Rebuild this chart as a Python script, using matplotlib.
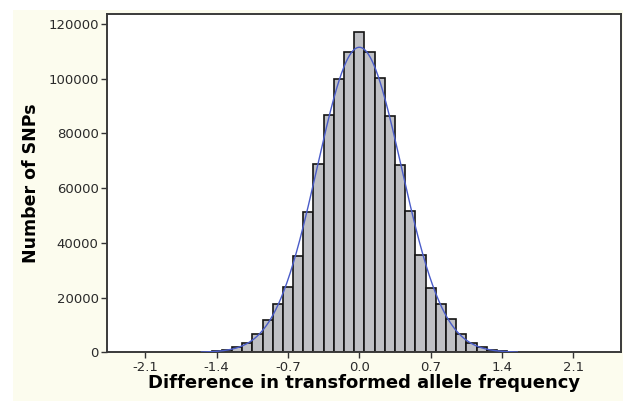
import numpy as np
import matplotlib
matplotlib.use("Agg")
import matplotlib.pyplot as plt
from matplotlib.patches import Rectangle

# histogram of differences, bin width 0.1 centred on multiples of 0.1
bin_centers = [-1.5, -1.4, -1.3, -1.2, -1.1, -1.0, -0.9, -0.8, -0.7, -0.6, -0.5,
               -0.4, -0.3, -0.2, -0.1, 0.0, 0.1, 0.2, 0.3, 0.4, 0.5,
               0.6, 0.7, 0.8, 0.9, 1.0, 1.1, 1.2, 1.3, 1.4, 1.5]
snp_counts = [150, 400, 1000, 2000, 3500, 6700, 11800, 17600, 24000, 35300, 51200,
              68900, 86800, 100000, 109800, 117000, 109600, 100300, 86500, 68400, 51700,
              35600, 23400, 17600, 12200, 6700, 3500, 2000, 1000, 400, 150]
bin_width = 0.1

x_ticks = [-2.1, -1.4, -0.7, 0.0, 0.7, 1.4, 2.1]
y_ticks = [0, 20000, 40000, 60000, 80000, 100000, 120000]

centers = np.array(bin_centers)
counts = np.array(snp_counts, dtype=float)

# normal fit from the binned data
n_total = counts.sum()
mu = (centers * counts).sum() / n_total
sd = np.sqrt(((centers - mu) ** 2 * counts).sum() / n_total)
xs = np.linspace(centers[0] - bin_width / 2, centers[-1] + bin_width / 2, 400)
fit = n_total * bin_width / (sd * np.sqrt(2 * np.pi)) * np.exp(-0.5 * ((xs - mu) / sd) ** 2)

fig = plt.figure(figsize=(6.23, 4.01), dpi=100)
fig.patch.set_facecolor("white")
fig.patches.append(Rectangle((13 / 623, 0), 1, 1 - 10 / 401, transform=fig.transFigure,
                             facecolor="#fcfcee", edgecolor="none", zorder=-1))

ax = fig.add_axes([107 / 623, 48.7 / 401, 514 / 623, 338.8 / 401])
ax.set_facecolor("white")
ax.bar(centers, counts, width=bin_width, color="#bfc0c4", edgecolor="#141414",
       linewidth=1.2, zorder=2)
ax.plot(xs, fit, color="#4a5cc9", linewidth=1.0, zorder=3)

ax.set_xlim(-2.476, 2.568)
ax.set_ylim(0, 123800)
ax.set_xticks(x_ticks)
ax.set_xticklabels([f"{t:.1f}" for t in x_ticks])
ax.set_yticks(y_ticks)
ax.set_yticklabels([str(t) for t in y_ticks])
ax.tick_params(direction="out", length=4, width=1, color="#333333",
               labelsize=9.5, labelcolor="#2a2a2a", pad=2)

for side in ["left", "bottom", "top", "right"]:
    ax.spines[side].set_color("#3a3a3a")
    ax.spines[side].set_linewidth(1.4)

ax.set_xlabel("Difference in transformed allele frequency", fontsize=13,
              fontweight="bold", labelpad=0)
ax.set_ylabel("Number of SNPs", fontsize=12.5, fontweight="bold", labelpad=6)

fig.savefig("out.png", dpi=100, facecolor=fig.get_facecolor())
